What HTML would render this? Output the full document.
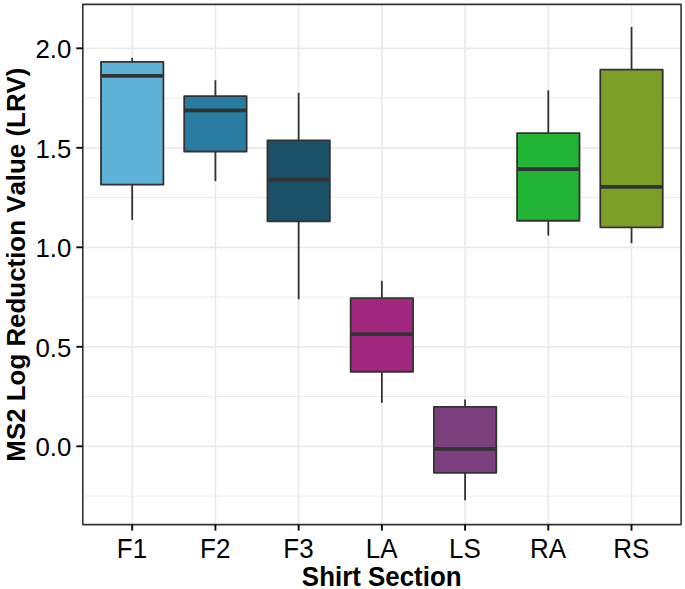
<!DOCTYPE html>
<html lang="en"><head><meta charset="utf-8"><title>MS2 Log Reduction Value by Shirt Section</title>
<style>html,body{margin:0;padding:0;background:#fff}svg{display:block}text{font-family:"Liberation Sans",Arial,Helvetica,sans-serif;fill:#000;font-kerning:none;font-variant-ligatures:none}</style></head><body>
<svg width="685" height="589" viewBox="0 0 685 589">
<rect width="685" height="589" fill="#fff"/>
<line x1="82.8" x2="681.1" y1="496.05" y2="496.05" stroke="#EBEBEB" stroke-width="1.0"/>
<line x1="82.8" x2="681.1" y1="396.55" y2="396.55" stroke="#EBEBEB" stroke-width="1.0"/>
<line x1="82.8" x2="681.1" y1="297.05" y2="297.05" stroke="#EBEBEB" stroke-width="1.0"/>
<line x1="82.8" x2="681.1" y1="197.55" y2="197.55" stroke="#EBEBEB" stroke-width="1.0"/>
<line x1="82.8" x2="681.1" y1="98.05" y2="98.05" stroke="#EBEBEB" stroke-width="1.0"/>
<line x1="82.8" x2="681.1" y1="446.30" y2="446.30" stroke="#EBEBEB" stroke-width="1.7"/>
<line x1="82.8" x2="681.1" y1="346.80" y2="346.80" stroke="#EBEBEB" stroke-width="1.7"/>
<line x1="82.8" x2="681.1" y1="247.30" y2="247.30" stroke="#EBEBEB" stroke-width="1.7"/>
<line x1="82.8" x2="681.1" y1="147.80" y2="147.80" stroke="#EBEBEB" stroke-width="1.7"/>
<line x1="82.8" x2="681.1" y1="48.30" y2="48.30" stroke="#EBEBEB" stroke-width="1.7"/>
<line x1="132.20" x2="132.20" y1="4.4" y2="524.6" stroke="#EBEBEB" stroke-width="1.7"/>
<line x1="215.42" x2="215.42" y1="4.4" y2="524.6" stroke="#EBEBEB" stroke-width="1.7"/>
<line x1="298.64" x2="298.64" y1="4.4" y2="524.6" stroke="#EBEBEB" stroke-width="1.7"/>
<line x1="381.86" x2="381.86" y1="4.4" y2="524.6" stroke="#EBEBEB" stroke-width="1.7"/>
<line x1="465.08" x2="465.08" y1="4.4" y2="524.6" stroke="#EBEBEB" stroke-width="1.7"/>
<line x1="548.30" x2="548.30" y1="4.4" y2="524.6" stroke="#EBEBEB" stroke-width="1.7"/>
<line x1="631.52" x2="631.52" y1="4.4" y2="524.6" stroke="#EBEBEB" stroke-width="1.7"/>
<line x1="132.20" x2="132.20" y1="57.75" y2="61.93" stroke="#333333" stroke-width="1.8"/>
<line x1="132.20" x2="132.20" y1="184.71" y2="219.94" stroke="#333333" stroke-width="1.8"/>
<rect x="101.00" y="61.93" width="62.4" height="122.78" fill="#5EB1D7" stroke="#333333" stroke-width="1.8" stroke-linejoin="round"/>
<line x1="101.00" x2="163.40" y1="75.86" y2="75.86" stroke="#333333" stroke-width="3.8"/>
<line x1="215.42" x2="215.42" y1="80.24" y2="96.16" stroke="#333333" stroke-width="1.8"/>
<line x1="215.42" x2="215.42" y1="151.48" y2="181.13" stroke="#333333" stroke-width="1.8"/>
<rect x="184.22" y="96.16" width="62.4" height="55.32" fill="#287CA2" stroke="#333333" stroke-width="1.8" stroke-linejoin="round"/>
<line x1="184.22" x2="246.62" y1="110.29" y2="110.29" stroke="#333333" stroke-width="3.8"/>
<line x1="298.64" x2="298.64" y1="92.78" y2="140.34" stroke="#333333" stroke-width="1.8"/>
<line x1="298.64" x2="298.64" y1="221.33" y2="299.34" stroke="#333333" stroke-width="1.8"/>
<rect x="267.44" y="140.34" width="62.4" height="80.99" fill="#1B5069" stroke="#333333" stroke-width="1.8" stroke-linejoin="round"/>
<line x1="267.44" x2="329.84" y1="179.74" y2="179.74" stroke="#333333" stroke-width="3.8"/>
<line x1="381.86" x2="381.86" y1="280.83" y2="298.04" stroke="#333333" stroke-width="1.8"/>
<line x1="381.86" x2="381.86" y1="371.77" y2="402.82" stroke="#333333" stroke-width="1.8"/>
<rect x="350.66" y="298.04" width="62.4" height="73.73" fill="#A2277F" stroke="#333333" stroke-width="1.8" stroke-linejoin="round"/>
<line x1="350.66" x2="413.06" y1="334.16" y2="334.16" stroke="#333333" stroke-width="3.8"/>
<line x1="465.08" x2="465.08" y1="399.43" y2="406.80" stroke="#333333" stroke-width="1.8"/>
<line x1="465.08" x2="465.08" y1="472.87" y2="500.33" stroke="#333333" stroke-width="1.8"/>
<rect x="433.88" y="406.80" width="62.4" height="66.07" fill="#7C3F7E" stroke="#333333" stroke-width="1.8" stroke-linejoin="round"/>
<line x1="433.88" x2="496.28" y1="448.91" y2="448.91" stroke="#333333" stroke-width="3.8"/>
<line x1="548.30" x2="548.30" y1="90.39" y2="133.17" stroke="#333333" stroke-width="1.8"/>
<line x1="548.30" x2="548.30" y1="220.73" y2="235.66" stroke="#333333" stroke-width="1.8"/>
<rect x="517.10" y="133.17" width="62.4" height="87.56" fill="#21B435" stroke="#333333" stroke-width="1.8" stroke-linejoin="round"/>
<line x1="517.10" x2="579.50" y1="169.19" y2="169.19" stroke="#333333" stroke-width="3.8"/>
<line x1="631.52" x2="631.52" y1="26.91" y2="69.69" stroke="#333333" stroke-width="1.8"/>
<line x1="631.52" x2="631.52" y1="227.30" y2="243.22" stroke="#333333" stroke-width="1.8"/>
<rect x="600.32" y="69.69" width="62.4" height="157.61" fill="#7C9F27" stroke="#333333" stroke-width="1.8" stroke-linejoin="round"/>
<line x1="600.32" x2="662.72" y1="186.80" y2="186.80" stroke="#333333" stroke-width="3.8"/>
<rect x="82.8" y="4.4" width="598.30" height="520.20" fill="none" stroke="#333333" stroke-width="1.6" stroke-linejoin="round"/>
<line x1="76.3" x2="82.8" y1="446.30" y2="446.30" stroke="#0a0a0a" stroke-width="1.9"/>
<text transform="translate(71.4,456.20) scale(0.975,1)" font-size="26.5" text-anchor="end">0.0</text>
<line x1="76.3" x2="82.8" y1="346.80" y2="346.80" stroke="#0a0a0a" stroke-width="1.9"/>
<text transform="translate(71.4,356.70) scale(0.975,1)" font-size="26.5" text-anchor="end">0.5</text>
<line x1="76.3" x2="82.8" y1="247.30" y2="247.30" stroke="#0a0a0a" stroke-width="1.9"/>
<text transform="translate(71.4,257.20) scale(0.975,1)" font-size="26.5" text-anchor="end">1.0</text>
<line x1="76.3" x2="82.8" y1="147.80" y2="147.80" stroke="#0a0a0a" stroke-width="1.9"/>
<text transform="translate(71.4,157.70) scale(0.975,1)" font-size="26.5" text-anchor="end">1.5</text>
<line x1="76.3" x2="82.8" y1="48.30" y2="48.30" stroke="#0a0a0a" stroke-width="1.9"/>
<text transform="translate(71.4,58.20) scale(0.975,1)" font-size="26.5" text-anchor="end">2.0</text>
<line x1="132.20" x2="132.20" y1="524.6" y2="530.6" stroke="#0a0a0a" stroke-width="1.9"/>
<text transform="translate(132.00,558.0) scale(0.97,1)" font-size="26.8" text-anchor="middle">F1</text>
<line x1="215.42" x2="215.42" y1="524.6" y2="530.6" stroke="#0a0a0a" stroke-width="1.9"/>
<text transform="translate(215.22,558.0) scale(0.97,1)" font-size="26.8" text-anchor="middle">F2</text>
<line x1="298.64" x2="298.64" y1="524.6" y2="530.6" stroke="#0a0a0a" stroke-width="1.9"/>
<text transform="translate(298.44,558.0) scale(0.97,1)" font-size="26.8" text-anchor="middle">F3</text>
<line x1="381.86" x2="381.86" y1="524.6" y2="530.6" stroke="#0a0a0a" stroke-width="1.9"/>
<text transform="translate(381.66,558.0) scale(0.97,1)" font-size="26.8" text-anchor="middle">LA</text>
<line x1="465.08" x2="465.08" y1="524.6" y2="530.6" stroke="#0a0a0a" stroke-width="1.9"/>
<text transform="translate(464.88,558.0) scale(0.97,1)" font-size="26.8" text-anchor="middle">LS</text>
<line x1="548.30" x2="548.30" y1="524.6" y2="530.6" stroke="#0a0a0a" stroke-width="1.9"/>
<text transform="translate(548.10,558.0) scale(0.97,1)" font-size="26.8" text-anchor="middle">RA</text>
<line x1="631.52" x2="631.52" y1="524.6" y2="530.6" stroke="#0a0a0a" stroke-width="1.9"/>
<text transform="translate(631.32,558.0) scale(0.97,1)" font-size="26.8" text-anchor="middle">RS</text>
<text transform="translate(381.7,585.7) scale(0.963,1)" font-size="26.9" font-weight="bold" text-anchor="middle">Shirt Section</text>
<text transform="translate(25.1,264.6) rotate(-90) scale(1.02,1)" font-size="25.4" font-weight="bold" text-anchor="middle">MS2 Log Reduction Value (LRV)</text>
</svg></body></html>
